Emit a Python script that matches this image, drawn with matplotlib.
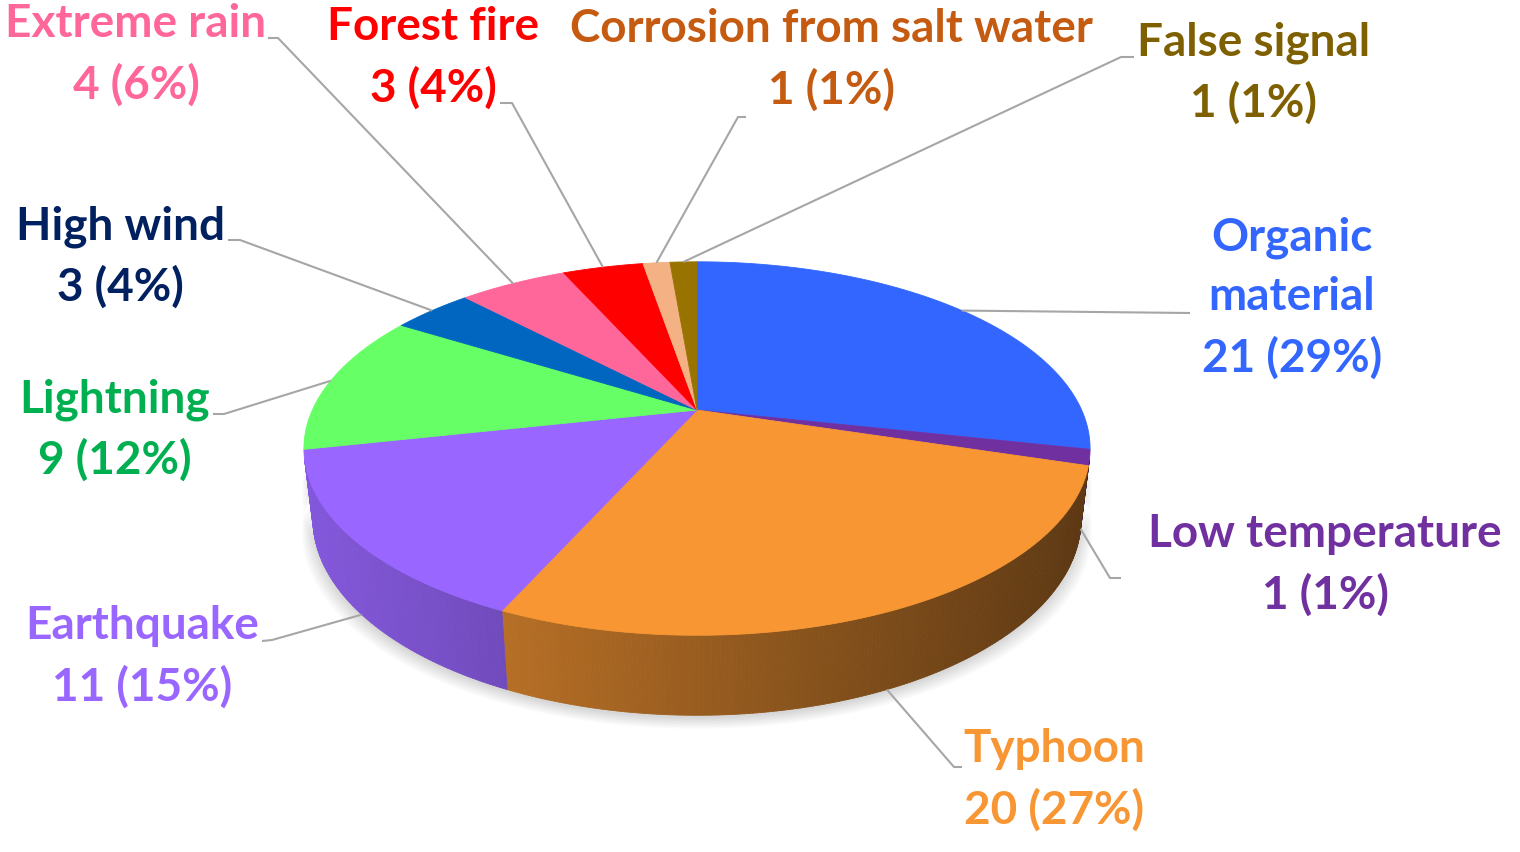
import numpy as np
import matplotlib.pyplot as plt
from matplotlib.patches import Polygon
from matplotlib.collections import PolyCollection
from matplotlib.colors import to_rgb

plt.rcParams['font.family'] = ['Lato', 'DejaVu Sans']

# data (clockwise from 12 o'clock)
categories = ['Organic\nmaterial', 'Low temperature', 'Typhoon', 'Earthquake', 'Lightning',
              'High wind', 'Extreme rain', 'Forest fire', 'Corrosion from salt water', 'False signal']
counts = [21, 1, 20, 11, 9, 3, 4, 3, 1, 1]
percents = [29, 1, 27, 15, 12, 4, 6, 4, 1, 1]

slice_colors = ['#3366FF', '#7030A0', '#F79633', '#9966FF', '#66FF66',
                '#0066C0', '#FF6699', '#FF0000', '#F4B183', '#997300']
text_colors = ['#3366FF', '#7030A0', '#F79633', '#9966FF', '#00B050',
               '#002060', '#FF6699', '#FF0000', '#C55A11', '#7F6000']

# label layout (pixel coords): text centre, leader start, elbow
label_xy = [(1292, 298), (1325, 565), (1054, 780), (142, 657), (115, 430),
            (120, 257), (136, 55), (433, 58), (831, 60), (1254, 73)]
leader_start = [(1190, 313), (1121, 578), (962, 767), (262, 641), (213, 414),
                (228, 240), (268, 38), (500, 103), (746, 117), (1134, 57)]
leader_elbow = [(1190, 313), (1110, 578), (954, 767), (272, 640), (224, 414),
                (240, 240), (278, 38), (512, 103), (738, 117), (1121, 57)]

# perspective camera for the 3-D disc
cx, cy = 697, 410
alpha = np.radians(27.7)
D = 4.29
F = 1650.0
thick = 0.2065


def proj(theta, z):
    u = np.sin(theta)
    v = np.cos(theta)
    depth = D + v * np.cos(alpha) - z * np.sin(alpha)
    x = cx + F * u / depth
    y = cy - F * (v * np.sin(alpha) + z * np.cos(alpha)) / depth
    return x, y


def shade(x):
    return np.clip(0.86 - (x - 304) * 0.000615, 0.3, 1.0)


fig = plt.figure(figsize=(15.2, 8.52), dpi=100)
ax = fig.add_axes([0, 0, 1, 1])
ax.set_xlim(0, 1520)
ax.set_ylim(852, 0)
ax.axis('off')

bounds = np.concatenate([[0], np.cumsum(counts)]) / np.sum(counts) * 2 * np.pi

# soft shadow under the disc
for k in range(8):
    tt = np.linspace(np.pi / 2, 3 * np.pi / 2, 120)
    sx, sy = proj(tt, -thick)
    sy = sy + 3 + k * 1.5
    sx = cx + (sx - cx) * (1 + k * 0.004)
    ax.fill(np.r_[sx, sx[::-1]], np.r_[sy, sy[::-1] - 40], color='#000000', alpha=0.018, lw=0, zorder=1)

# visible part of the side wall
vis_lo = np.arccos(-1 / (D * np.cos(alpha)))
vis_hi = 2 * np.pi - vis_lo

quads = []
qcols = []
for i in range(len(counts)):
    a0 = max(bounds[i], vis_lo)
    a1 = min(bounds[i + 1], vis_hi)
    if a1 <= a0:
        continue
    n = max(int((a1 - a0) / np.radians(0.5)), 2)
    ts = np.linspace(a0, a1, n + 1)
    base = np.array(to_rgb(slice_colors[i]))
    for t0, t1 in zip(ts[:-1], ts[1:]):
        x0, y0 = proj(t0, 0)
        x1, y1 = proj(t1, 0)
        x2, y2 = proj(t1, -thick)
        x3, y3 = proj(t0, -thick)
        quads.append([(x0, y0), (x1, y1), (x2, y2), (x3, y3)])
        qcols.append(base * shade((x0 + x1) / 2))
ax.add_collection(PolyCollection(quads, facecolors=qcols, edgecolors=qcols, linewidths=0.6, zorder=2))

# top faces
for i in range(len(counts)):
    ts = np.linspace(bounds[i], bounds[i + 1], 200)
    ex, ey = proj(ts, 0)
    pts = np.column_stack([np.r_[cx, ex], np.r_[cy, ey]])
    ax.add_patch(Polygon(pts, closed=True, facecolor=slice_colors[i], edgecolor=slice_colors[i],
                         lw=0.6, zorder=3))

# labels and leader lines
for i in range(len(counts)):
    mid = (bounds[i] + bounds[i + 1]) / 2
    if np.cos(mid) < -0.2:
        px, py = proj(mid, -thick)
    else:
        px, py = proj(mid, 0)
    xs = [leader_start[i][0], leader_elbow[i][0], px]
    ys = [leader_start[i][1], leader_elbow[i][1], py]
    ax.plot(xs, ys, color='#A6A6A6', lw=1.5, zorder=4, solid_capstyle='butt')
    txt = '%s\n%d (%d%%)' % (categories[i], counts[i], percents[i])
    ax.text(label_xy[i][0], label_xy[i][1], txt, ha='center', va='center', fontsize=33,
            fontweight='bold', color=text_colors[i], linespacing=1.5, zorder=5)

fig.savefig('out.png', dpi=100)
